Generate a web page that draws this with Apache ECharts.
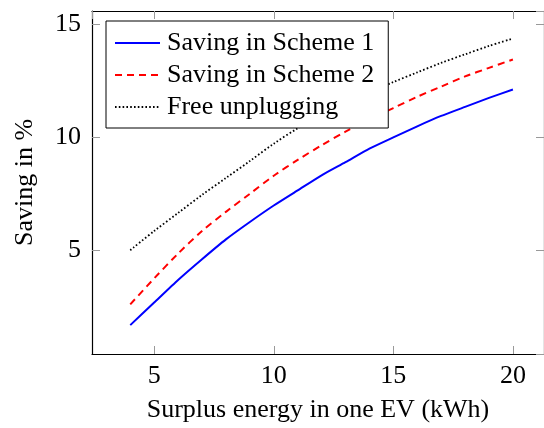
<!DOCTYPE html>
<html>
<head>
<meta charset="utf-8">
<script src="https://cdn.jsdelivr.net/npm/echarts@6/dist/echarts.min.js"></script>
<style>
  html, body { margin: 0; padding: 0; background: #fff; }
  #chart { width: 544px; height: 428px; }
</style>
</head>
<body>
<div id="chart"></div>
<script>
// surplus energy (kWh)
const energy = [4, 5, 6, 7, 8, 9, 10, 11, 12, 13, 14, 15, 16, 17, 18, 19, 20]
// saving in %
const scheme1 = [1.68, 2.68, 3.68, 4.6, 5.48, 6.25, 6.98, 7.65, 8.32, 8.9, 9.5, 10.0, 10.49, 10.95, 11.35, 11.75, 12.12]
const scheme2 = [2.6, 3.75, 4.85, 5.85, 6.7, 7.5, 8.3, 9.0, 9.65, 10.25, 10.8, 11.3, 11.8, 12.25, 12.7, 13.08, 13.45]
const unplug = [5.0, 5.85, 6.65, 7.45, 8.2, 8.95, 9.72, 10.4, 10.98, 11.5, 12.0, 12.45, 12.88, 13.3, 13.68, 14.05, 14.38]
const names = ['Saving in Scheme 1', 'Saving in Scheme 2', 'Free unplugging']

const font = 'Liberation Serif'
const fs = 26
const pair = (ys) => energy.map((x, i) => [x, ys[i]])

let charts = echarts.init(document.getElementById('chart'))

const tickStyle = { show: true, inside: true, length: 8, lineStyle: { color: '#999', width: 1 } }
const frame = { show: true, onZero: false, lineStyle: { color: '#000', width: 1.2 } }

charts.setOption({
    animation: false,
    grid: { left: 92, right: -2, top: 11, bottom: 73 },
    legend: {
        orient: 'vertical',
        left: 106,
        top: 21,
        data: names.map(n => ({ name: n, itemStyle: { opacity: 0 } })),
        backgroundColor: '#fff',
        borderColor: '#000',
        borderWidth: 1,
        padding: [9, 14, 8, 8],
        itemGap: 6,
        itemWidth: 45,
        itemHeight: 16,
        textStyle: { fontFamily: font, fontSize: fs, color: '#000', padding: [0, 0, 0, 2] }
    },
    xAxis: [
        {
            type: 'value', min: 2.4, max: 21.3, splitNumber: 4,
            axisLine: frame, axisTick: tickStyle, splitLine: { show: false },
            axisLabel: { showMinLabel: false, showMaxLabel: false, fontFamily: font, fontSize: fs, color: '#000', margin: 9 },
            name: 'Surplus energy in one EV (kWh)', nameLocation: 'middle', nameGap: 43,
            nameTextStyle: { fontFamily: font, fontSize: fs, color: '#000' }
        },
        {
            type: 'value', position: 'top', min: 2.4, max: 21.3, splitNumber: 4,
            axisLine: frame, axisTick: tickStyle, splitLine: { show: false },
            axisLabel: { show: false }
        }
    ],
    yAxis: [
        {
            type: 'value', min: 0.4, max: 15.6, splitNumber: 3,
            axisLine: frame, axisTick: tickStyle, splitLine: { show: false },
            axisLabel: { showMinLabel: false, showMaxLabel: false, fontFamily: font, fontSize: fs, color: '#000', margin: 11 },
            name: 'Saving in %', nameLocation: 'middle', nameGap: 54,
            nameTextStyle: { fontFamily: font, fontSize: fs, color: '#000' }
        },
        {
            type: 'value', position: 'right', min: 0.4, max: 15.6, splitNumber: 3,
            axisLine: frame, axisTick: tickStyle, splitLine: { show: false },
            axisLabel: { show: false }
        }
    ],
    series: [
        {
            name: names[0], type: 'line', showSymbol: false, symbol: 'none', smooth: 0.2,
            data: pair(scheme1), color: '#0000ff',
            lineStyle: { color: '#0000ff', width: 2 }
        },
        {
            name: names[1], type: 'line', showSymbol: false, symbol: 'none', smooth: 0.3,
            data: pair(scheme2), color: '#ff0000',
            lineStyle: { color: '#ff0000', width: 2, type: [7, 5] }
        },
        {
            name: names[2], type: 'line', showSymbol: false, symbol: 'none', smooth: 0.3,
            data: pair(unplug), color: '#000',
            lineStyle: { color: '#000', width: 1.8, type: [1.6, 2.2] }
        }
    ]
})
</script>
</body>
</html>
